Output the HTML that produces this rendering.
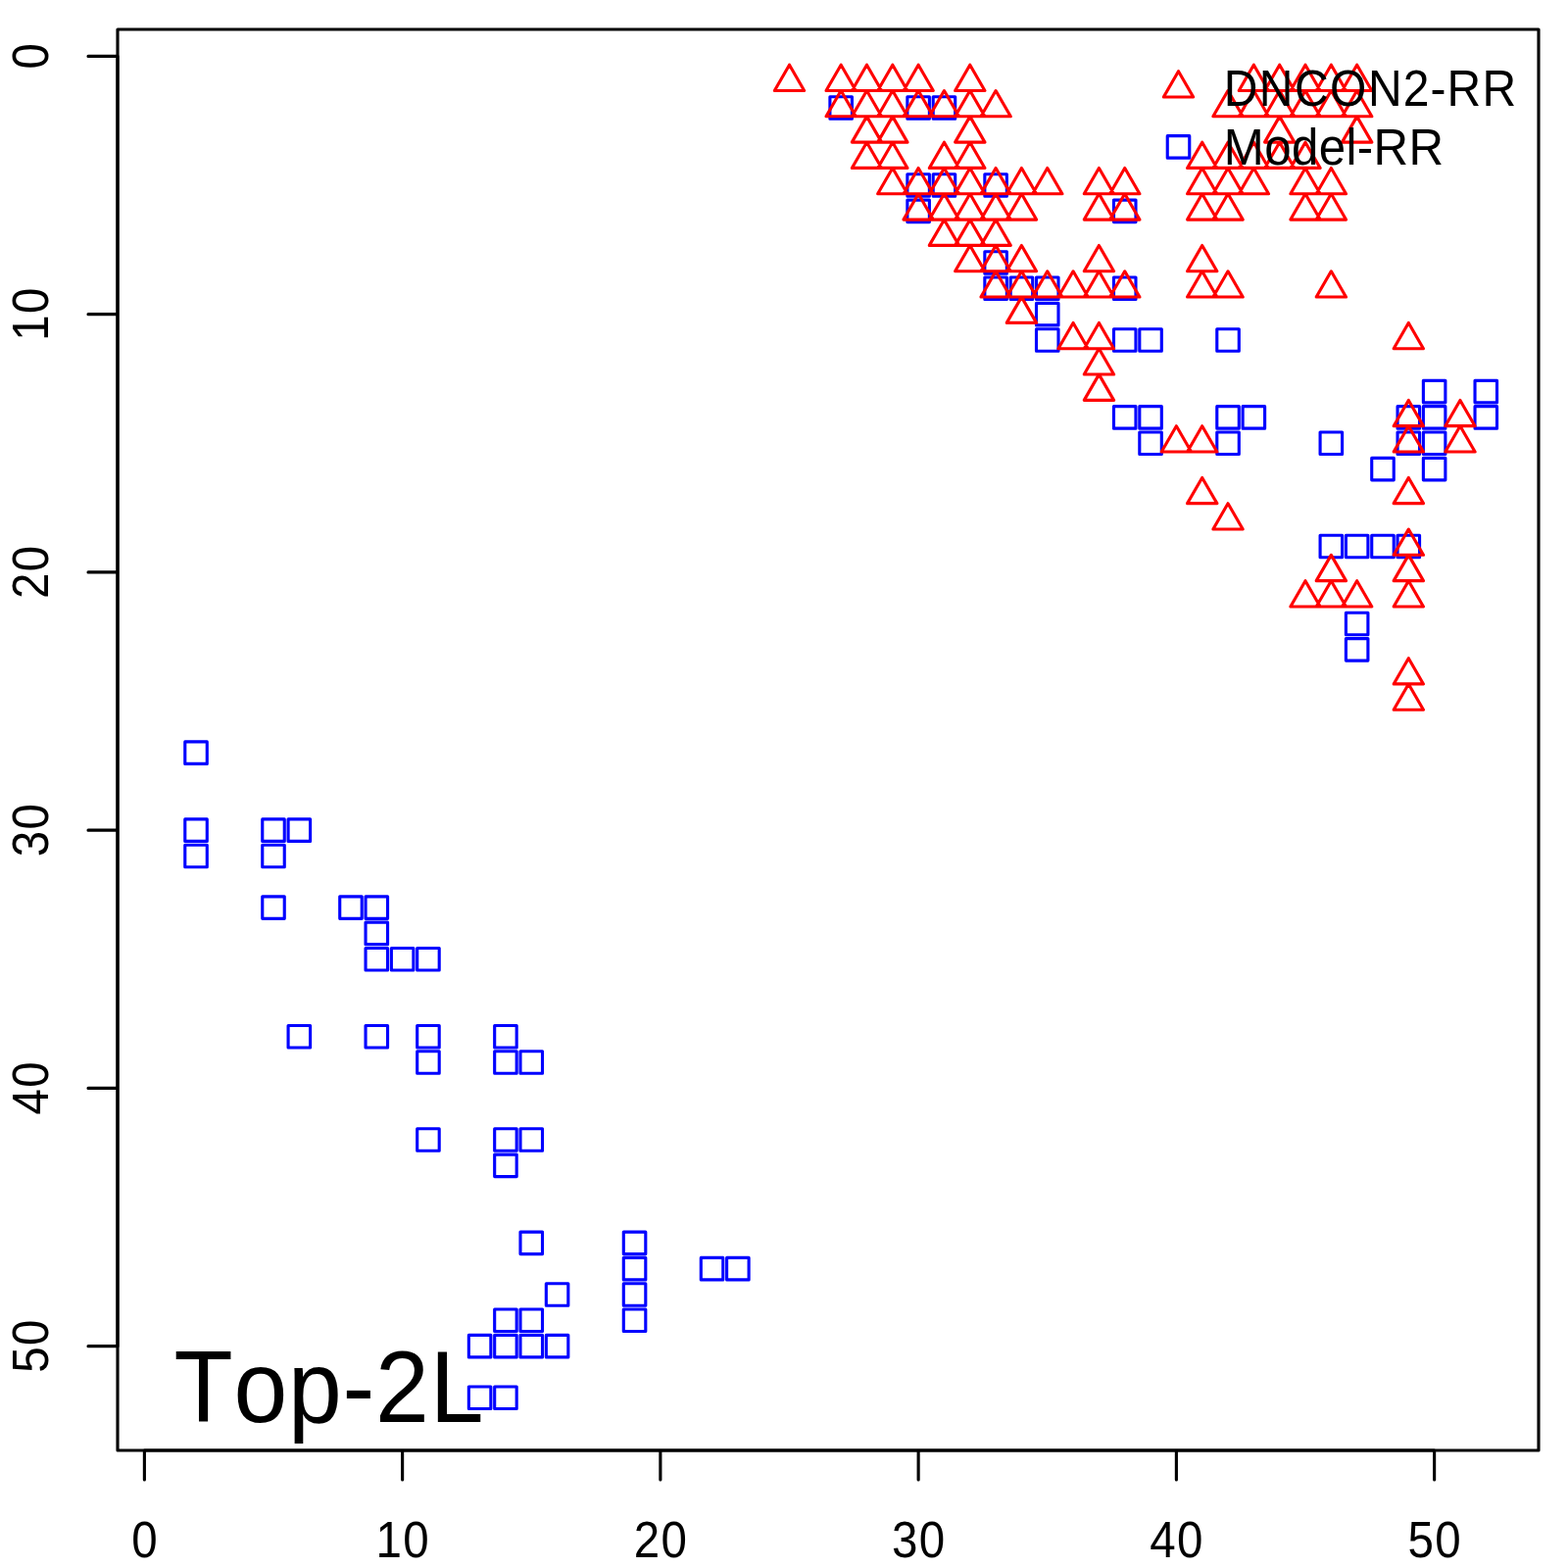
<!DOCTYPE html>
<html lang="en">
<head>
<meta charset="utf-8">
<title>Top-2L contact map</title>
<style>
html,body{margin:0;padding:0;background:#fff;}
body{width:1600px;height:1600px;overflow:hidden;}
svg{display:block;}
text{font-family:"Liberation Sans",sans-serif;fill:#000;font-kerning:none;}
.ax{font-size:50px;}
.big{font-size:100px;}
.ln{fill:none;stroke:#000;stroke-width:3.125;stroke-linecap:round;stroke-linejoin:round;}
.sq{fill:none;stroke:#00f;stroke-width:3.125;stroke-linecap:round;stroke-linejoin:round;}
.tr{fill:none;stroke:#f00;stroke-width:3.125;stroke-linecap:round;stroke-linejoin:round;}
</style>
</head>
<body>
<svg width="1600" height="1600" viewBox="0 0 1600 1600">
<rect x="0" y="0" width="1600" height="1600" fill="#fff"/>
<path class="sq" d="M188.78 756.9h22.5v22.5h-22.5zM188.78 835.88h22.5v22.5h-22.5zM188.78 862.2h22.5v22.5h-22.5zM267.75 835.88h22.5v22.5h-22.5zM267.75 862.2h22.5v22.5h-22.5zM267.75 914.85h22.5v22.5h-22.5zM294.08 835.88h22.5v22.5h-22.5zM294.08 1046.48h22.5v22.5h-22.5zM346.73 914.85h22.5v22.5h-22.5zM373.05 914.85h22.5v22.5h-22.5zM373.05 941.18h22.5v22.5h-22.5zM373.05 967.5h22.5v22.5h-22.5zM373.05 1046.48h22.5v22.5h-22.5zM399.38 967.5h22.5v22.5h-22.5zM425.7 967.5h22.5v22.5h-22.5zM425.7 1046.48h22.5v22.5h-22.5zM425.7 1072.8h22.5v22.5h-22.5zM425.7 1151.78h22.5v22.5h-22.5zM478.35 1362.38h22.5v22.5h-22.5zM478.35 1415.03h22.5v22.5h-22.5zM504.68 1046.48h22.5v22.5h-22.5zM504.68 1072.8h22.5v22.5h-22.5zM504.68 1151.78h22.5v22.5h-22.5zM504.68 1178.1h22.5v22.5h-22.5zM504.68 1336.05h22.5v22.5h-22.5zM504.68 1362.38h22.5v22.5h-22.5zM504.68 1415.03h22.5v22.5h-22.5zM531 1072.8h22.5v22.5h-22.5zM531 1151.78h22.5v22.5h-22.5zM531 1257.08h22.5v22.5h-22.5zM531 1336.05h22.5v22.5h-22.5zM531 1362.38h22.5v22.5h-22.5zM557.33 1309.73h22.5v22.5h-22.5zM557.33 1362.38h22.5v22.5h-22.5zM636.3 1257.08h22.5v22.5h-22.5zM636.3 1283.4h22.5v22.5h-22.5zM636.3 1309.73h22.5v22.5h-22.5zM636.3 1336.05h22.5v22.5h-22.5zM715.28 1283.4h22.5v22.5h-22.5zM741.6 1283.4h22.5v22.5h-22.5zM846.9 98.78h22.5v22.5h-22.5zM925.88 98.78h22.5v22.5h-22.5zM952.2 98.78h22.5v22.5h-22.5zM925.88 177.75h22.5v22.5h-22.5zM952.2 177.75h22.5v22.5h-22.5zM1004.85 177.75h22.5v22.5h-22.5zM925.88 204.08h22.5v22.5h-22.5zM1136.48 204.08h22.5v22.5h-22.5zM1004.85 256.73h22.5v22.5h-22.5zM1004.85 283.05h22.5v22.5h-22.5zM1031.18 283.05h22.5v22.5h-22.5zM1057.5 283.05h22.5v22.5h-22.5zM1136.48 283.05h22.5v22.5h-22.5zM1057.5 309.38h22.5v22.5h-22.5zM1057.5 335.7h22.5v22.5h-22.5zM1136.48 335.7h22.5v22.5h-22.5zM1162.8 335.7h22.5v22.5h-22.5zM1241.78 335.7h22.5v22.5h-22.5zM1452.38 388.35h22.5v22.5h-22.5zM1505.03 388.35h22.5v22.5h-22.5zM1136.48 414.68h22.5v22.5h-22.5zM1162.8 414.68h22.5v22.5h-22.5zM1241.78 414.68h22.5v22.5h-22.5zM1268.1 414.68h22.5v22.5h-22.5zM1426.05 414.68h22.5v22.5h-22.5zM1452.38 414.68h22.5v22.5h-22.5zM1505.03 414.68h22.5v22.5h-22.5zM1162.8 441h22.5v22.5h-22.5zM1241.78 441h22.5v22.5h-22.5zM1347.08 441h22.5v22.5h-22.5zM1426.05 441h22.5v22.5h-22.5zM1452.38 441h22.5v22.5h-22.5zM1399.73 467.33h22.5v22.5h-22.5zM1452.38 467.33h22.5v22.5h-22.5zM1347.08 546.3h22.5v22.5h-22.5zM1373.4 546.3h22.5v22.5h-22.5zM1399.73 546.3h22.5v22.5h-22.5zM1426.05 546.3h22.5v22.5h-22.5zM1373.4 625.28h22.5v22.5h-22.5zM1373.4 651.6h22.5v22.5h-22.5z"/>
<path class="tr" d="M805.5 66.21L820.65 92.45L790.35 92.45zM858.15 66.21L873.3 92.45L843 92.45zM884.48 66.21L899.63 92.45L869.33 92.45zM910.8 66.21L925.95 92.45L895.65 92.45zM937.13 66.21L952.28 92.45L921.98 92.45zM989.78 66.21L1004.93 92.45L974.63 92.45zM1279.35 66.21L1294.5 92.45L1264.2 92.45zM1305.68 66.21L1320.83 92.45L1290.53 92.45zM1332 66.21L1347.15 92.45L1316.85 92.45zM1358.33 66.21L1373.48 92.45L1343.18 92.45zM1384.65 66.21L1399.8 92.45L1369.5 92.45zM858.15 92.53L873.3 118.78L843 118.78zM884.48 92.53L899.63 118.78L869.33 118.78zM910.8 92.53L925.95 118.78L895.65 118.78zM937.13 92.53L952.28 118.78L921.98 118.78zM963.45 92.53L978.6 118.78L948.3 118.78zM989.78 92.53L1004.93 118.78L974.63 118.78zM1016.1 92.53L1031.25 118.78L1000.95 118.78zM1253.03 92.53L1268.18 118.78L1237.88 118.78zM1279.35 92.53L1294.5 118.78L1264.2 118.78zM1305.68 92.53L1320.83 118.78L1290.53 118.78zM1332 92.53L1347.15 118.78L1316.85 118.78zM1358.33 92.53L1373.48 118.78L1343.18 118.78zM1384.65 92.53L1399.8 118.78L1369.5 118.78zM884.48 118.86L899.63 145.1L869.33 145.1zM910.8 118.86L925.95 145.1L895.65 145.1zM989.78 118.86L1004.93 145.1L974.63 145.1zM1305.68 118.86L1320.83 145.1L1290.53 145.1zM1384.65 118.86L1399.8 145.1L1369.5 145.1zM884.48 145.18L899.63 171.43L869.33 171.43zM910.8 145.18L925.95 171.43L895.65 171.43zM963.45 145.18L978.6 171.43L948.3 171.43zM989.78 145.18L1004.93 171.43L974.63 171.43zM1226.7 145.18L1241.85 171.43L1211.55 171.43zM1253.03 145.18L1268.18 171.43L1237.88 171.43zM1279.35 145.18L1294.5 171.43L1264.2 171.43zM1305.68 145.18L1320.83 171.43L1290.53 171.43zM1332 145.18L1347.15 171.43L1316.85 171.43zM910.8 171.51L925.95 197.75L895.65 197.75zM937.13 171.51L952.28 197.75L921.98 197.75zM963.45 171.51L978.6 197.75L948.3 197.75zM989.78 171.51L1004.93 197.75L974.63 197.75zM1016.1 171.51L1031.25 197.75L1000.95 197.75zM1042.43 171.51L1057.58 197.75L1027.28 197.75zM1068.75 171.51L1083.9 197.75L1053.6 197.75zM1121.4 171.51L1136.55 197.75L1106.25 197.75zM1147.73 171.51L1162.88 197.75L1132.58 197.75zM1226.7 171.51L1241.85 197.75L1211.55 197.75zM1253.03 171.51L1268.18 197.75L1237.88 197.75zM1279.35 171.51L1294.5 197.75L1264.2 197.75zM1332 171.51L1347.15 197.75L1316.85 197.75zM1358.33 171.51L1373.48 197.75L1343.18 197.75zM937.13 197.83L952.28 224.08L921.98 224.08zM963.45 197.83L978.6 224.08L948.3 224.08zM989.78 197.83L1004.93 224.08L974.63 224.08zM1016.1 197.83L1031.25 224.08L1000.95 224.08zM1042.43 197.83L1057.58 224.08L1027.28 224.08zM1121.4 197.83L1136.55 224.08L1106.25 224.08zM1147.73 197.83L1162.88 224.08L1132.58 224.08zM1226.7 197.83L1241.85 224.08L1211.55 224.08zM1253.03 197.83L1268.18 224.08L1237.88 224.08zM1332 197.83L1347.15 224.08L1316.85 224.08zM1358.33 197.83L1373.48 224.08L1343.18 224.08zM963.45 224.16L978.6 250.4L948.3 250.4zM989.78 224.16L1004.93 250.4L974.63 250.4zM1016.1 224.16L1031.25 250.4L1000.95 250.4zM989.78 250.48L1004.93 276.73L974.63 276.73zM1016.1 250.48L1031.25 276.73L1000.95 276.73zM1042.43 250.48L1057.58 276.73L1027.28 276.73zM1121.4 250.48L1136.55 276.73L1106.25 276.73zM1226.7 250.48L1241.85 276.73L1211.55 276.73zM1016.1 276.81L1031.25 303.05L1000.95 303.05zM1042.43 276.81L1057.58 303.05L1027.28 303.05zM1068.75 276.81L1083.9 303.05L1053.6 303.05zM1095.08 276.81L1110.23 303.05L1079.93 303.05zM1121.4 276.81L1136.55 303.05L1106.25 303.05zM1147.73 276.81L1162.88 303.05L1132.58 303.05zM1226.7 276.81L1241.85 303.05L1211.55 303.05zM1253.03 276.81L1268.18 303.05L1237.88 303.05zM1358.33 276.81L1373.48 303.05L1343.18 303.05zM1042.43 303.13L1057.58 329.38L1027.28 329.38zM1095.08 329.46L1110.23 355.7L1079.93 355.7zM1121.4 329.46L1136.55 355.7L1106.25 355.7zM1437.3 329.46L1452.45 355.7L1422.15 355.7zM1121.4 355.78L1136.55 382.03L1106.25 382.03zM1121.4 382.11L1136.55 408.35L1106.25 408.35zM1437.3 408.43L1452.45 434.68L1422.15 434.68zM1489.95 408.43L1505.1 434.68L1474.8 434.68zM1200.38 434.76L1215.53 461L1185.23 461zM1226.7 434.76L1241.85 461L1211.55 461zM1437.3 434.76L1452.45 461L1422.15 461zM1489.95 434.76L1505.1 461L1474.8 461zM1226.7 487.41L1241.85 513.65L1211.55 513.65zM1437.3 487.41L1452.45 513.65L1422.15 513.65zM1253.03 513.73L1268.18 539.98L1237.88 539.98zM1437.3 540.06L1452.45 566.3L1422.15 566.3zM1358.33 566.38L1373.48 592.63L1343.18 592.63zM1437.3 566.38L1452.45 592.63L1422.15 592.63zM1332 592.71L1347.15 618.95L1316.85 618.95zM1358.33 592.71L1373.48 618.95L1343.18 618.95zM1384.65 592.71L1399.8 618.95L1369.5 618.95zM1437.3 592.71L1452.45 618.95L1422.15 618.95zM1437.3 671.68L1452.45 697.93L1422.15 697.93zM1437.3 698.01L1452.45 724.25L1422.15 724.25z"/>
<path class="ln" d="M147.38 1480H1463.63M147.38 1480v30M410.63 1480v30M673.88 1480v30M937.13 1480v30M1200.38 1480v30M1463.63 1480v30M120 57.38V1373.63M120 57.38h-30M120 320.63h-30M120 583.88h-30M120 847.13h-30M120 1110.38h-30M120 1373.63h-30"/>
<path class="ln" d="M120 30H1570V1480H120z"/>
<text class="ax" transform="translate(147.38 1588.6) scale(0.95 1.05)" x="-13.9">0</text>
<text class="ax" transform="translate(410.63 1588.6) scale(0.95 1.05)" x="-28.54 0.73">10</text>
<text class="ax" transform="translate(673.88 1588.6) scale(0.95 1.05)" x="-28.54 0.73">20</text>
<text class="ax" transform="translate(937.13 1588.6) scale(0.95 1.05)" x="-28.54 0.73">30</text>
<text class="ax" transform="translate(1200.38 1588.6) scale(0.95 1.05)" x="-28.54 0.73">40</text>
<text class="ax" transform="translate(1463.63 1588.6) scale(0.95 1.05)" x="-28.54 0.73">50</text>
<text class="ax" transform="translate(48.7 57.38) rotate(-90) scale(0.95 1.05)" x="-13.9">0</text>
<text class="ax" transform="translate(48.7 320.63) rotate(-90) scale(0.95 1.05)" x="-28.54 0.73">10</text>
<text class="ax" transform="translate(48.7 583.88) rotate(-90) scale(0.95 1.05)" x="-28.54 0.73">20</text>
<text class="ax" transform="translate(48.7 847.13) rotate(-90) scale(0.95 1.05)" x="-28.54 0.73">30</text>
<text class="ax" transform="translate(48.7 1110.38) rotate(-90) scale(0.95 1.05)" x="-28.54 0.73">40</text>
<text class="ax" transform="translate(48.7 1373.63) rotate(-90) scale(0.95 1.05)" x="-28.54 0.73">50</text>
<text class="big" transform="translate(177 1451) scale(0.985 1.03)" x="0.47 62.44 118.9 175.19 209.17 265.63">Top-2L</text>
<path class="tr" d="M1202.5 72.7L1217.65 98.95L1187.35 98.95z"/>
<path class="sq" d="M1191.25 138.65h22.5v22.5h-22.5z"/>
<text class="ax" transform="translate(1248 107.6) scale(0.96 1.035)" x="0.75 38.37 75.98 113.65 154.1 191.54 220.28 238.03 275.64">DNCON2-RR</text>
<text class="ax" transform="translate(1248.4 167.6) scale(0.985 1.02)" x="0.32 42.5 70.73 98.96 127.06 138.38 155.43 192.09">Model-RR</text>
</svg>
</body>
</html>
